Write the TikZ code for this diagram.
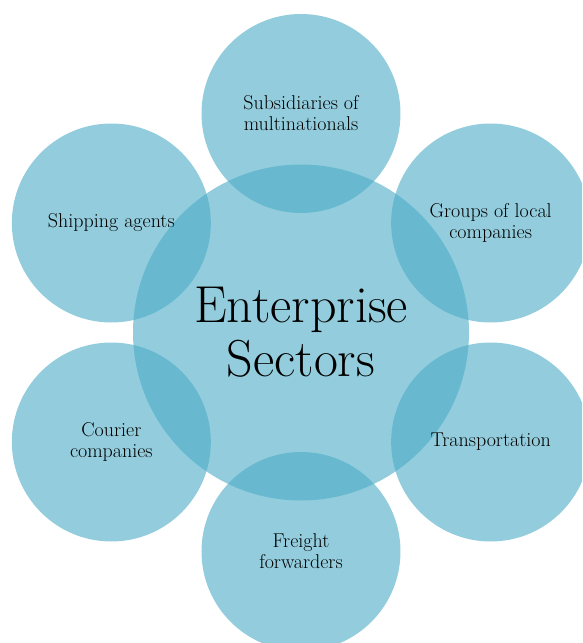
\documentclass[tikz,border=0pt]{standalone}
\usepackage{xcolor}
\definecolor{sectorblue}{HTML}{4BACC6}

\begin{document}
\begin{tikzpicture}[x=1pt,y=1pt,
	bubble/.style={circle,fill=sectorblue,fill opacity=.6,text opacity=1,inner sep=0pt,minimum size=199pt,align=center,font=\fontsize{20}{21}\selectfont},
	hub/.style={bubble,minimum size=336pt,font=\fontsize{52}{54}\selectfont}]
	\clip(-301,-310.5) rectangle (281,332.5);

	\node[hub](sectors) at (0,0) {Enterprise\\Sectors};

	\node[bubble](subsid) at (90:219) {Subsidiaries of\\multinationals};
	\node[bubble](groups) at (30:219) {Groups of local\\companies};
	\node[bubble](transport) at (-30:219) {Transportation};
	\node[bubble](freight) at (-90:219) {Freight\\forwarders};
	\node[bubble](courier) at (-150:219) {Courier\\companies};
	\node[bubble](shipping) at (150:219) {Shipping agents};
\end{tikzpicture}
\end{document}
